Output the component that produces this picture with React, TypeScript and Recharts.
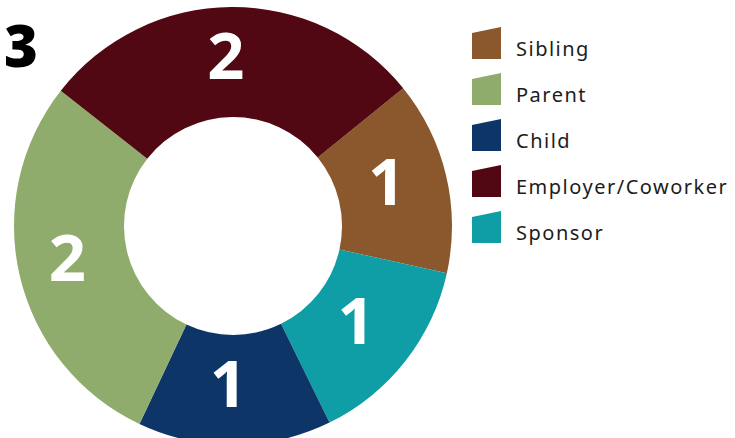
import React from "react";
import { PieChart, Pie, Cell, Legend } from "recharts";

// slices in clockwise order, starting at the Sibling / Employer edge
const sliceNames = ["Sibling", "Sponsor", "Child", "Parent", "Employer/Coworker"];
const sliceValues = [1, 1, 1, 2, 2];
const sliceColors = ["#8a582c", "#0f9ea5", "#0e3568", "#90ac6c", "#520812"];

// legend order as shown on the right
const legendNames = ["Sibling", "Parent", "Child", "Employer/Coworker", "Sponsor"];

const cornerLabel = "3";

const data = sliceNames.map((name, i) => ({
  name,
  value: sliceValues[i],
  color: sliceColors[i],
}));

const RAD = Math.PI / 180;

// eslint-disable-next-line @typescript-eslint/no-explicit-any
function renderLabel(props: any) {
  const { cx, cy, midAngle, innerRadius, outerRadius, value } = props;
  const r = (innerRadius + outerRadius) / 2;
  const x = cx + r * Math.cos(-midAngle * RAD) - 6;
  const y = cy + r * Math.sin(-midAngle * RAD) - 8;
  return (
    <text
      x={x}
      y={y}
      fill="#ffffff"
      textAnchor="middle"
      dominantBaseline="central"
      fontFamily="'Open Sans', sans-serif"
      fontWeight={700}
      fontSize={65}
    >
      {value}
    </text>
  );
}

function LegendList() {
  const rowGap = 46;
  return (
    <svg width={260} height={250} style={{ display: "block" }}>
      {legendNames.map((name, i) => {
        const color = data.find((d) => d.name === name)?.color ?? "#000";
        const top = i * rowGap;
        return (
          <g key={name} transform={`translate(0, ${top})`}>
            <polygon points="1,6 30,0 30,32 1,32" fill={color} />
            <text
              x={45}
              y={29}
              fill="#1c1c1c"
              fontFamily="'Noto Sans', sans-serif"
              fontSize={20}
              letterSpacing={1.5}
            >
              {name}
            </text>
          </g>
        );
      })}
    </svg>
  );
}

export default function App() {
  return (
    <div
      style={{
        position: "absolute",
        left: 0,
        top: 0,
        width: 735,
        height: 438,
        background: "#ffffff",
        overflow: "hidden",
      }}
    >
      <PieChart width={735} height={438} margin={{ top: 0, right: 0, bottom: 0, left: 0 }}>
        <Pie
          data={data}
          dataKey="value"
          nameKey="name"
          cx={233}
          cy={226}
          innerRadius={109}
          outerRadius={219}
          startAngle={39}
          endAngle={-321}
          stroke="none"
          label={renderLabel}
          labelLine={false}
          isAnimationActive={false}
        >
          {data.map((d) => (
            <Cell key={d.name} fill={d.color} />
          ))}
        </Pie>
        <Legend
          layout="vertical"
          align="right"
          verticalAlign="top"
          content={() => <LegendList />}
          wrapperStyle={{ position: "absolute", left: 471, top: 27, width: 260 }}
        />
        <text
          x={4}
          y={67}
          fill="#000000"
          fontFamily="'Open Sans', sans-serif"
          fontWeight={800}
          fontSize={58}
        >
          {cornerLabel}
        </text>
      </PieChart>
    </div>
  );
}
